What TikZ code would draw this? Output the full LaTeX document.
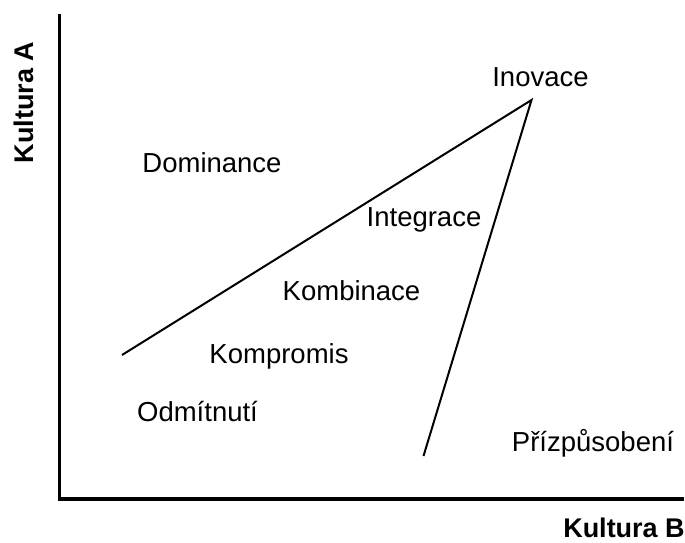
\documentclass[tikz,border=0pt]{standalone}
\usepackage{fontspec}
\setmainfont{Liberation Sans}
\begin{document}
\begin{tikzpicture}[x=1pt,y=-1pt,
  axis/.style={line width=3.6pt,line cap=butt,line join=miter},
  border/.style={line width=2pt,line cap=butt},
  region/.style={inner sep=0pt,anchor=base,font=\fontsize{27.5}{31}\selectfont},
  axislabel/.style={inner sep=0pt,anchor=base,font=\fontsize{27}{31}\selectfont\bfseries}]
\useasboundingbox (0,0) rectangle (685,543);

% axes
\coordinate (top) at (59.5,14);
\coordinate (origin) at (59.5,499);
\coordinate (right) at (684,499);
\draw[axis] (top) -- (origin) -- (right);

% region borders
\coordinate (apex) at (531.5,100);
\coordinate (left) at (122,355);
\coordinate (low) at (423.5,456);
\draw[border] (left) -- (apex) -- (low);

% axis labels
\node[axislabel,rotate=90] (ka) at (33,102.5) {Kultura A};
\node[axislabel] (kb) at (624,537) {Kultura B};

% region labels
\node[region] (inovace) at (540.5,86) {Inovace};
\node[region] (dominance) at (212,172) {Dominance};
\node[region] (integrace) at (424,226) {Integrace};
\node[region] (kombinace) at (351.5,300) {Kombinace};
\node[region] (kompromis) at (279,363) {Kompromis};
\node[region] (odmitnuti) at (197.5,421) {Odmítnutí};
\node[region] (prizpusobeni) at (593,451) {Přízpůsobení};
\end{tikzpicture}
\end{document}
